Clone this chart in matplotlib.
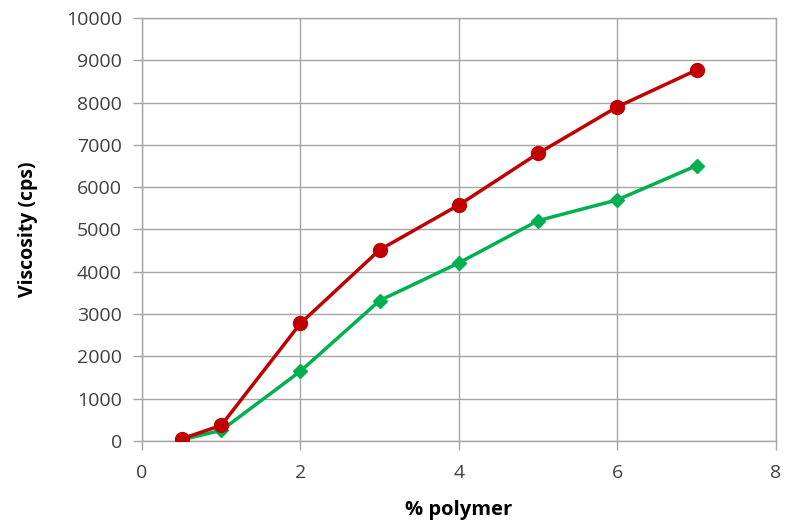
import matplotlib
matplotlib.use("Agg")
import matplotlib.pyplot as plt

# polymer concentration (%) and measured viscosity (cps)
polymer = [0.5, 1, 2, 3, 4, 5, 6, 7]
visc_red = [50, 370, 2780, 4520, 5580, 6800, 7900, 8770]
visc_green = [30, 250, 1650, 3320, 4210, 5210, 5700, 6510]

x_ticks = [0, 2, 4, 6, 8]
y_ticks = list(range(0, 10001, 1000))

plt.rcParams['font.family'] = ['Open Sans', 'DejaVu Sans']

fig = plt.figure(figsize=(7.86, 5.23), dpi=100)
ax = fig.add_axes([0.1807, 0.1568, 0.8063, 0.8088])

ax.plot(polymer, visc_green, color='#00B050', lw=2.5, marker='D', ms=7.5, zorder=3)
ax.plot(polymer, visc_red, color='#C00000', lw=2.5, marker='o', ms=10, zorder=4)

ax.set_xlim(0, 8)
ax.set_ylim(0, 10000)
ax.set_xticks(x_ticks)
ax.set_yticks(y_ticks)
ax.grid(True, color='#A6A6A6', lw=1.0)
ax.set_axisbelow(True)

for s in ax.spines.values():
    s.set_color('#A6A6A6')
    s.set_linewidth(1.0)

ax.tick_params(axis='both', colors='#A6A6A6', labelcolor='#404040',
               labelsize=14, length=6.5, width=1.0)
ax.tick_params(axis='y', pad=8)
ax.tick_params(axis='x', pad=10)

ax.set_xlabel('% polymer', fontsize=14.5, fontweight='bold', labelpad=13)
ax.set_ylabel('Viscosity (cps)', fontsize=14, fontweight='bold', labelpad=20)

fig.savefig('out.png', dpi=100)
